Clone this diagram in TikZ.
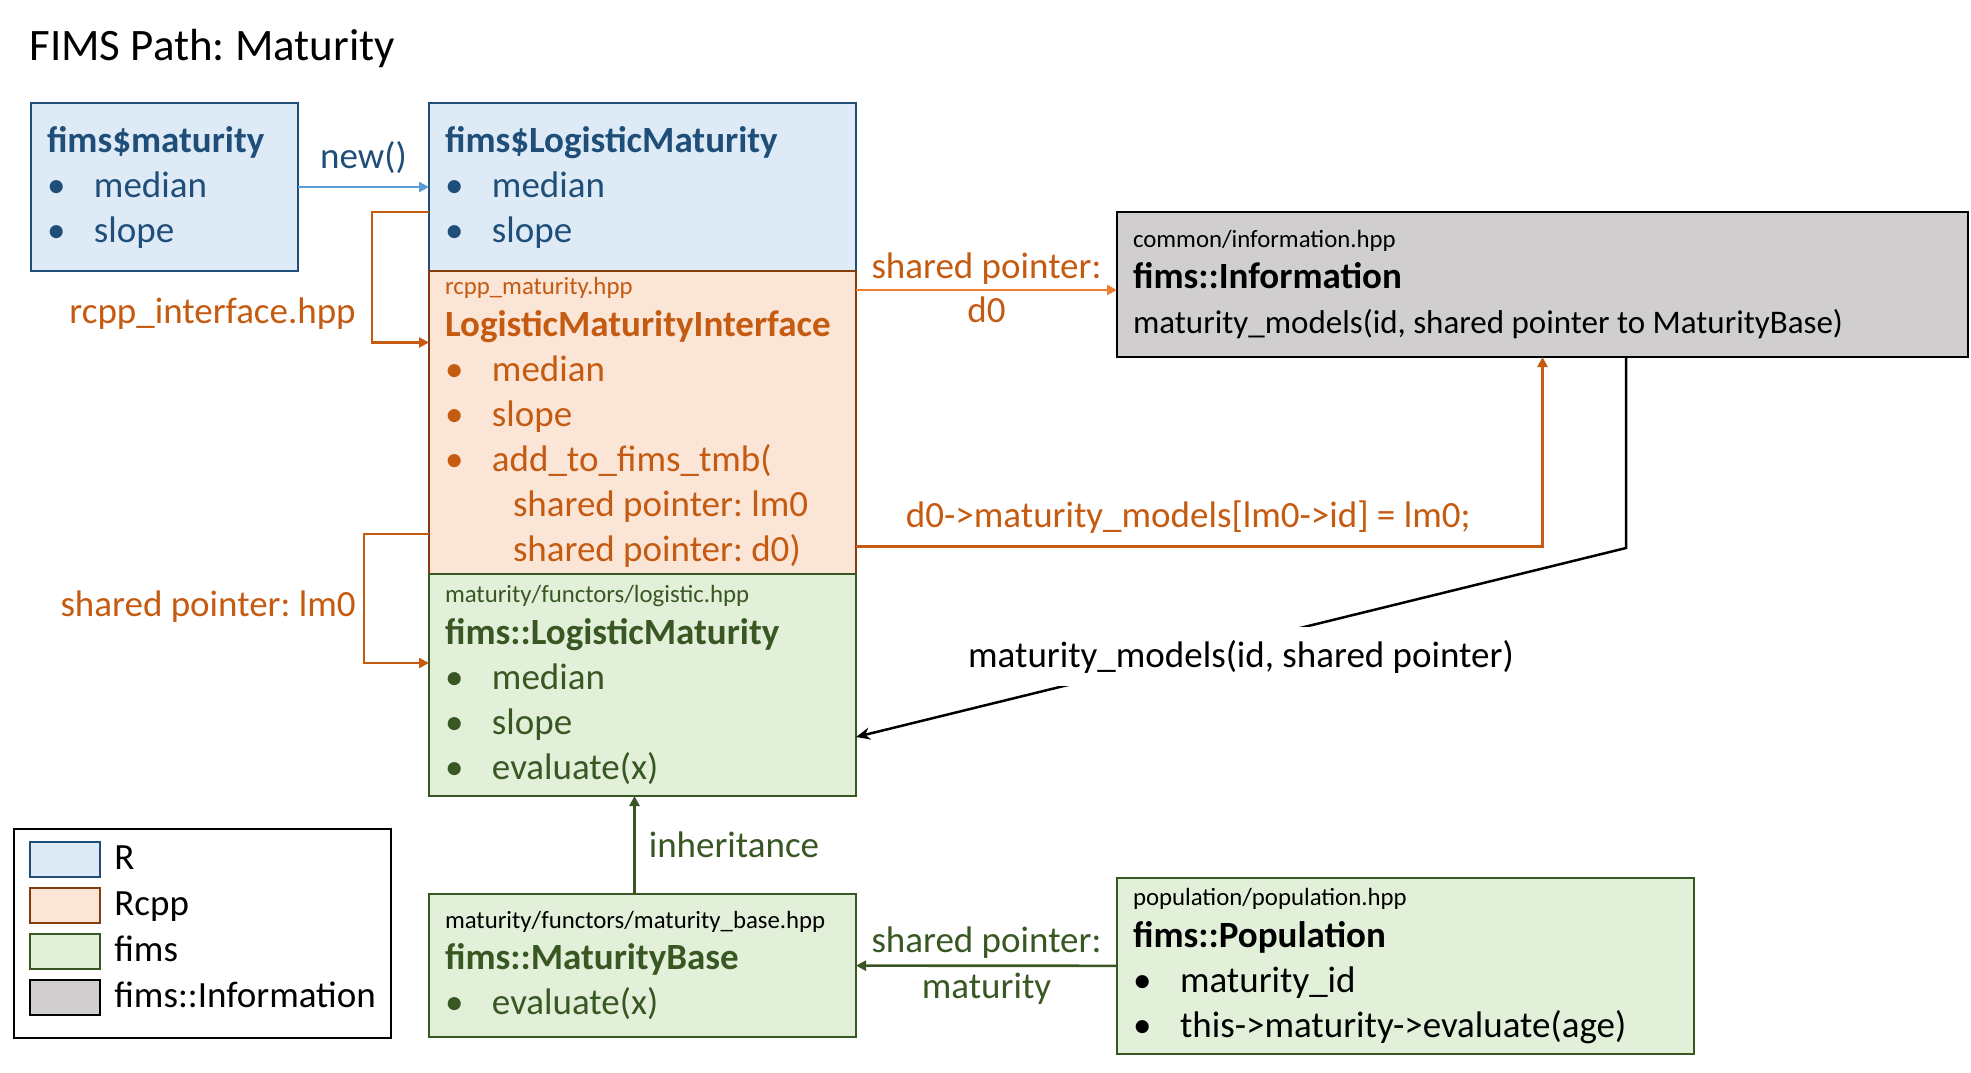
\documentclass[tikz,border=0pt]{standalone}
\usepackage{fontspec}
\setmainfont{Carlito}
\usepackage{tikz}
\usetikzlibrary{positioning,arrows.meta}
\definecolor{rFill}{HTML}{DEEBF7}
\definecolor{rLine}{HTML}{1F4E79}
\definecolor{rcppFill}{HTML}{FBE5D6}
\definecolor{rcppLine}{HTML}{843C0C}
\definecolor{rcppText}{HTML}{C55A11}
\definecolor{fimsFill}{HTML}{E2F0D9}
\definecolor{fimsLine}{HTML}{385723}
\definecolor{infoFill}{HTML}{D0CECE}
\definecolor{newBlue}{HTML}{5B9BD5}
\definecolor{ptrOrange}{HTML}{ED7D31}
\frenchspacing
\newcommand{\bul}[1]{\makebox[23.5pt][l]{•}#1}
\newcommand{\hpp}[1]{{\fontsize{12.4}{15}\selectfont #1}}
\tikzset{
  box/.style={draw, line width=1.2pt, outer sep=0pt, anchor=north west, inner xsep=8pt, inner ysep=0pt, align=flush left, font=\fontsize{18.5}{22.5}\selectfont},
  boxR/.style={box, fill=rFill, draw=rLine, text=rLine},
  boxRcpp/.style={box, fill=rcppFill, draw=rcppLine, text=rcppText},
  boxFims/.style={box, fill=fimsFill, draw=fimsLine, text=fimsLine},
  boxInfo/.style={box, fill=infoFill, draw=black, text=black},
  swatch/.style={draw, line width=1.2pt, outer sep=0pt, minimum width=35pt, minimum height=17.5pt, inner sep=0pt, anchor=north west},
  legendText/.style={font=\fontsize{18.5}{22.5}\selectfont, inner sep=6pt, text height=13.5pt, text depth=4pt},
  arrow/.style={-{Triangle[length=5pt, width=5pt]}, line width=1.3pt},
  edgeLabel/.style={font=\fontsize{18.5}{22.5}\selectfont, inner sep=2pt}
}

\begin{document}
\begin{tikzpicture}[x=0.5pt, y=-0.5pt]
  \useasboundingbox (0,0) rectangle (1971,1072);
  \node[anchor=base west, inner sep=0pt, font=\fontsize{22.5}{27}\selectfont] (title) at (29,60) {FIMS Path: Maturity};

  % R side
  \node[boxR, text width=117.5pt, minimum height=84pt] (rMat) at (31,103) {\textbf{fims\$maturity}\\ \bul{median}\\ \bul{slope}};
  \node[boxR, text width=197.5pt, minimum height=84pt] (rLogi) at (429,103) {\textbf{fims\$LogisticMaturity}\\ \bul{median}\\ \bul{slope}};

  % Rcpp interface and fims classes
  \node[boxRcpp, text width=197.5pt, minimum height=151.5pt, below=0pt of rLogi] (rcppLogi) {\hpp{rcpp\_maturity.hpp}\\[-1.6pt]
    \textbf{LogisticMaturityInterface}\\
    \bul{median}\\
    \bul{slope}\\
    \bul{add\_to\_fims\_tmb(}\\
    \hspace*{34pt}shared pointer: lm0\\
    \hspace*{34pt}shared pointer: d0)};
  \node[boxFims, text width=197.5pt, minimum height=111pt, below=0pt of rcppLogi] (fimsLogi) {\hpp{maturity/functors/logistic.hpp}\\[-1.6pt]
    \textbf{fims::LogisticMaturity}\\
    \bul{median}\\
    \bul{slope}\\
    \bul{evaluate(x)}};
  \node[boxFims, text width=197.5pt, minimum height=71.5pt, below=49pt of fimsLogi] (fimsBase) {\textcolor{black}{\hpp{maturity/functors/maturity\_base.hpp}}\\[-1.6pt]
    \textbf{fims::MaturityBase}\\
    \bul{evaluate(x)}};

  \node[boxInfo, text width=409.5pt, minimum height=72.5pt] (info) at (1117,212) {\hpp{common/information.hpp}\\[-1.6pt]
    \textbf{fims::Information}\\
    {\fontsize{16.5}{20}\selectfont maturity\_models(id, shared pointer to MaturityBase)}};
  \node[boxFims, text=black, text width=272.5pt, minimum height=88pt] (pop) at (1117,878) {\hpp{population/population.hpp}\\[-1.6pt]
    \textbf{fims::Population}\\
    \bul{maturity\_id}\\
    \bul{this->maturity->evaluate(age)}};

  % legend
  \node[draw, line width=1.2pt, anchor=north west, inner sep=0pt, minimum width=188.5pt, minimum height=104.5pt] (legend) at (13,828) {};
  \node[swatch, fill=rFill, draw=rLine] (swR) at (30,842) {};
  \node[swatch, fill=rcppFill, draw=rcppLine, below=5.5pt of swR] (swRcpp) {};
  \node[swatch, fill=fimsFill, draw=fimsLine, below=5.5pt of swRcpp] (swFims) {};
  \node[swatch, fill=infoFill, draw=black, below=5.5pt of swFims] (swInfo) {};
  \node[legendText, right=1pt of swR] (lblR) {R};
  \node[legendText, right=1pt of swRcpp] (lblRcpp) {Rcpp};
  \node[legendText, right=1pt of swFims] (lblFims) {fims};
  \node[legendText, right=1pt of swInfo] (lblInfo) {fims::Information};

  % connectors
  \draw[arrow, newBlue] (rMat) -- node[edgeLabel, above=4pt, text=rLine] (newLbl) {new()} (rLogi);
  \draw[arrow, rcppText] ([yshift=-12.5pt]rLogi.west) -- ++(-57,0) |- node[edgeLabel, pos=0.39, left=5.5pt] (ifaceLbl) {rcpp\_interface.hpp} ([yshift=40pt]rcppLogi.west);
  \draw[arrow, rcppText] ([yshift=-55.75pt]rcppLogi.west) -- ++(-65,0) |- node[edgeLabel, pos=0.28, left=1.5pt] (lmLbl) {shared pointer: lm0} ([yshift=11pt]fimsLogi.west);
  \coordinate (dStart) at ([yshift=66.25pt]rcppLogi.east);
  \draw[arrow, ptrOrange] (dStart) -- node[edgeLabel, above, text=rcppText] (dLblA) {shared pointer:} node[edgeLabel, below=1pt, text=rcppText] (dLblB) {d0} (dStart -| info.west);
  \draw[arrow, rcppText] ([yshift=-62pt]rcppLogi.east) -| node[edgeLabel, pos=0.242, above=4pt] (addLbl) {d0->maturity\_models[lm0->id] = lm0;} (info.south);
  \draw[-{Stealth[length=7pt, width=6pt]}, line width=1.25pt] ([xshift=41.75pt]info.south) -- ++(0,191) -- node[edgeLabel, pos=0.5, fill=white, inner sep=6.5pt, yshift=-7pt] (mmLbl) {maturity\_models(id, shared pointer)} ([yshift=-26pt]fimsLogi.east);
  \draw[arrow, fimsLine] ([xshift=-4pt]fimsBase.north) -- node[edgeLabel, right=4.5pt] (inhLbl) {inheritance} ([xshift=-4pt]fimsLogi.south);
  \draw[arrow, fimsLine] (pop) -- node[edgeLabel, above=1pt] (pLblA) {shared pointer:} node[edgeLabel, below=1pt] (pLblB) {maturity} (fimsBase);
\end{tikzpicture}
\end{document}
